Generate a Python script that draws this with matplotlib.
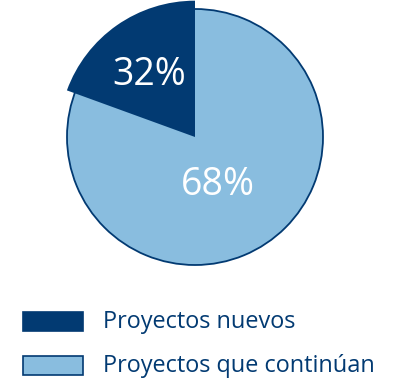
import matplotlib
matplotlib.use("Agg")
import matplotlib.pyplot as plt
from matplotlib.patches import Rectangle

categories = ["Proyectos nuevos", "Proyectos que continúan"]
values = [32, 68]
labels = ["32%", "68%"]
# angular span of the highlighted wedge as drawn in the reference (degrees)
drawn_span = [70, 290]

dark = "#023A72"
light = "#89BDDF"

plt.rcParams['font.family'] = ['Open Sans', 'DejaVu Sans']

fig = plt.figure(figsize=(4.0, 3.79), dpi=100)
ax = fig.add_axes([0, 0, 1, 1])

cx, cy, r = 195, 242, 128

# full light circle
ax.pie([values[1]], colors=[light], center=(cx, cy), radius=r, startangle=90,
       wedgeprops=dict(edgecolor=dark, linewidth=1.3), frame=True)
# highlighted dark wedge, slightly larger
wedges, _ = ax.pie(drawn_span, colors=[dark, 'none'], center=(cx, cy), radius=r * 1.065,
                   startangle=90, counterclock=True, frame=True,
                   wedgeprops=dict(linewidth=0))
wedges[1].set_visible(False)
ax.set_xlim(0, 400)
ax.set_ylim(0, 379)
ax.set_aspect('equal')
ax.axis('off')

ax.text(149, 379 - 75, labels[0], color='white', fontsize=27, ha='center', va='center')
ax.text(218, 379 - 185, labels[1], color='white', fontsize=27, ha='center', va='center')

# legend
for i, (cat, col) in enumerate(zip(categories, [dark, light])):
    yc = 379 - (321 + 44 * i)
    ax.add_patch(Rectangle((23, yc - 9.5), 60, 19, facecolor=col, edgecolor=dark, linewidth=1.2))
    ax.text(103, yc - 1, cat, color=dark, fontsize=16.9, ha='left', va='center')

fig.savefig("out.png", dpi=100)
